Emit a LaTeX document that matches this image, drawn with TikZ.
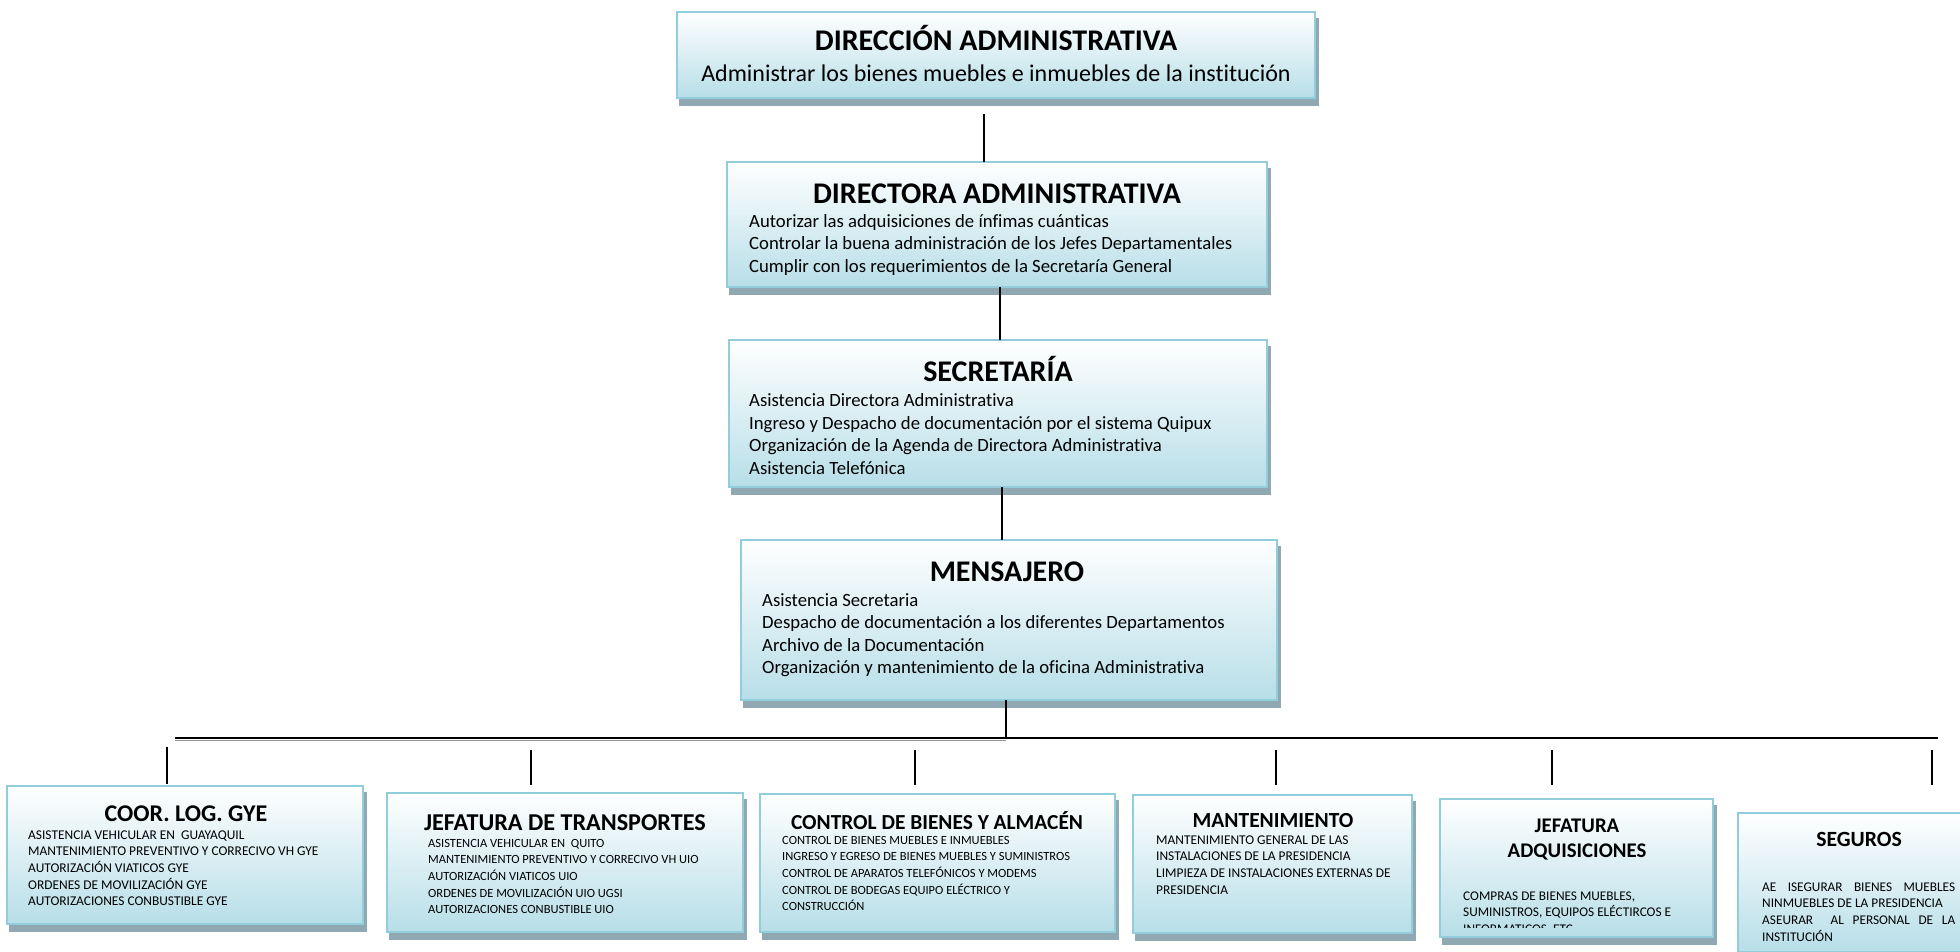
\documentclass[tikz,border=0pt]{standalone}
\usepackage{fontspec}
\setmainfont{Carlito}[Ligatures=NoCommon]
\definecolor{boxedge}{HTML}{92CDDC}
\definecolor{boxfoot}{HTML}{B7DEE8}
\definecolor{boxshade}{HTML}{8FA8B2}
\begin{document}
\begin{tikzpicture}[x=1pt,y=-1pt,
  unit/.style={draw=boxedge, line width=2.8pt, top color=white, bottom color=boxfoot,
    inner sep=0pt, outer sep=0pt, anchor=north west,
    preaction={draw=boxshade, fill=boxshade, line width=2.8pt,
      transform canvas={shift={(3pt,-7pt)}}}},
  head/.style={font=\bfseries\fontsize{30}{34}\selectfont, anchor=base, inner sep=0pt},
  sub/.style={font=\fontsize{24}{28}\selectfont, anchor=base, inner sep=0pt},
  duty/.style={font=\fontsize{18.7}{22.5}\selectfont, anchor=base west, inner sep=0pt},
  dhead/.style={font=\bfseries\fontsize{#1}{25}\selectfont, anchor=base, inner sep=0pt},
  dhead/.default=23,
  ddut/.style={font=\fontsize{#1}{16.7}\selectfont, anchor=base west, inner sep=0pt},
  ddut/.default=13.4,
  link/.style={line width=1.5pt}
]
\useasboundingbox (0,0) rectangle (1960,952);

% ---------- upper chain ----------
\node[unit, minimum width=638pt, minimum height=86pt] (b1) at (677,12) {};
\node[head] (b1t) at (996,51) {DIRECCIÓN ADMINISTRATIVA};
\node[sub] (b1s) at (996,82) {Administrar los bienes muebles e inmuebles de la institución};

\node[unit, minimum width=540pt, minimum height=125pt] (b2) at (727,162) {};
\node[head] (b2t) at (997,204) {DIRECTORA ADMINISTRATIVA};
\node[duty] (b2x) at (749,227.5) {\parbox[t]{520pt}{\raggedright
  Autorizar las adquisiciones de ínfimas cuánticas\\
  Controlar la buena administración de los Jefes Departamentales\\
  Cumplir con los requerimientos de la Secretaría General}};

\node[unit, minimum width=538pt, minimum height=147pt] (b3) at (729,340) {};
\node[head] (b3t) at (998,381) {SECRETARÍA};
\node[duty] (b3x) at (749,406.5) {\parbox[t]{520pt}{\raggedright
  Asistencia Directora Administrativa\\
  Ingreso y Despacho de documentación por el sistema Quipux\\
  Organización de la Agenda de Directora Administrativa\\
  Asistencia Telefónica}};

\node[unit, minimum width=536pt, minimum height=160pt] (b4) at (741,540) {};
\node[head] (b4t) at (1007,581) {MENSAJERO};
\node[duty] (b4x) at (762,606) {\parbox[t]{510pt}{\raggedright
  Asistencia Secretaria\\
  Despacho de documentación a los diferentes Departamentos\\
  Archivo de la Documentación\\
  Organización y mantenimiento de la oficina Administrativa}};

% ---------- departments ----------
\node[unit, minimum width=356pt, minimum height=138pt] (c1) at (7,786) {};
\node[dhead=24] (c1t) at (186,821) {COOR. LOG. GYE};
\node[ddut] (c1x) at (28,839) {\parbox[t]{330pt}{\raggedright
  ASISTENCIA VEHICULAR EN\ \ GUAYAQUIL\\
  MANTENIMIENTO PREVENTIVO Y CORRECIVO VH GYE\\
  AUTORIZACIÓN VIATICOS GYE\\
  ORDENES DE MOVILIZACIÓN GYE\\
  AUTORIZACIONES CONBUSTIBLE GYE}};

\node[unit, minimum width=356pt, minimum height=139pt] (c2) at (387,793) {};
\node[dhead=24.2] (c2t) at (565,830) {JEFATURA DE TRANSPORTES};
\node[ddut=12.5] (c2x) at (428,847) {\parbox[t]{310pt}{\raggedright
  ASISTENCIA VEHICULAR EN\ \ QUITO\\
  MANTENIMIENTO PREVENTIVO Y CORRECIVO VH UIO\\
  AUTORIZACIÓN VIATICOS UIO\\
  ORDENES DE MOVILIZACIÓN UIO UGSI\\
  AUTORIZACIONES CONBUSTIBLE UIO}};

\node[unit, minimum width=355pt, minimum height=138pt] (c3) at (760,794) {};
\node[dhead=21.4] (c3t) at (937,829) {CONTROL DE BIENES Y ALMACÉN};
\node[ddut=12.5] (c3x) at (782,844) {\parbox[t]{320pt}{\raggedright
  CONTROL DE BIENES MUEBLES E INMUEBLES\\
  INGRESO Y EGRESO DE BIENES MUEBLES Y SUMINISTROS\\
  CONTROL DE APARATOS TELEFÓNICOS Y MODEMS\\
  CONTROL DE BODEGAS EQUIPO ELÉCTRICO Y\\
  CONSTRUCCIÓN}};

\node[unit, minimum width=279pt, minimum height=138pt] (c4) at (1133,795) {};
\node[dhead=21.5] (c4t) at (1273,827) {MANTENIMIENTO};
\node[ddut] (c4x) at (1156,844) {\parbox[t]{250pt}{\raggedright
  MANTENIMIENTO GENERAL DE LAS\\
  INSTALACIONES DE LA PRESIDENCIA\\
  LIMPIEZA DE INSTALACIONES EXTERNAS DE\\
  PRESIDENCIA}};

\node[unit, minimum width=273pt, minimum height=138pt] (c5) at (1440,799) {};
\node[dhead=20.8] (c5t) at (1577,832) {\parbox[t]{250pt}{\centering JEFATURA\\ADQUISICIONES}};
\begin{scope}
  \clip (1440,799) rectangle (1713,927);
  \node[ddut=13.3] (c5x) at (1463,900) {\parbox[t]{240pt}{\raggedright
    COMPRAS DE BIENES MUEBLES,\\
    SUMINISTROS, EQUIPOS ELÉCTIRCOS E\\
    INFORMATICOS, ETC}};
\end{scope}

\node[unit, minimum width=272pt, minimum height=139pt] (c6) at (1738,813) {};
\node[dhead=21.7] (c6t) at (1859,846) {SEGUROS};
\node[ddut=13.3] (c6x) at (1762,891) {\parbox[t]{240pt}{%
  \makebox[193pt][s]{AE ISEGURAR BIENES MUEBLES}\\
  NINMUEBLES DE LA PRESIDENCIA\\
  \makebox[193pt][s]{ASEURAR \ AL PERSONAL DE LA}\\
  INSTITUCIÓN}};

% ---------- connectors ----------
\draw[link] ([xshift=-12pt,yshift=-16pt]b1.south) -- ([xshift=-12pt]b1.south |- b2.north);
\draw[link] ([xshift=3pt]b2.south) -- ([xshift=3pt]b2.south |- b3.north);
\draw[link] ([xshift=4pt]b3.south) -- ([xshift=4pt]b3.south |- b4.north);

\coordinate (busL) at (175,738);
\coordinate (busR) at (1938,738);
\draw[link] ([xshift=-3pt]b4.south) -- ([xshift=-3pt]b4.south |- busL);
\draw[gray!80, line width=1.5pt] (175,740.5) -- ([xshift=-3pt,yshift=-2.5pt]b4.south |- busL);
\draw[line width=2.4pt] (busL) -- (busR);

\coordinate (d1) at (167,747);
\coordinate (d2) at (531,750);
\coordinate (d3) at (915,750);
\coordinate (d4) at (1276,750);
\coordinate (d5) at (1552,750);
\coordinate (d6) at (1932,750);
\draw[link] (d1) -- ([yshift=2pt]d1 |- c1.north);
\draw[link] (d2) -- ++(0,35);
\draw[link] (d3) -- ++(0,35);
\draw[link] (d4) -- ++(0,35);
\draw[link] (d5) -- ++(0,35);
\draw[link] (d6) -- ++(0,35);
\end{tikzpicture}
\end{document}
